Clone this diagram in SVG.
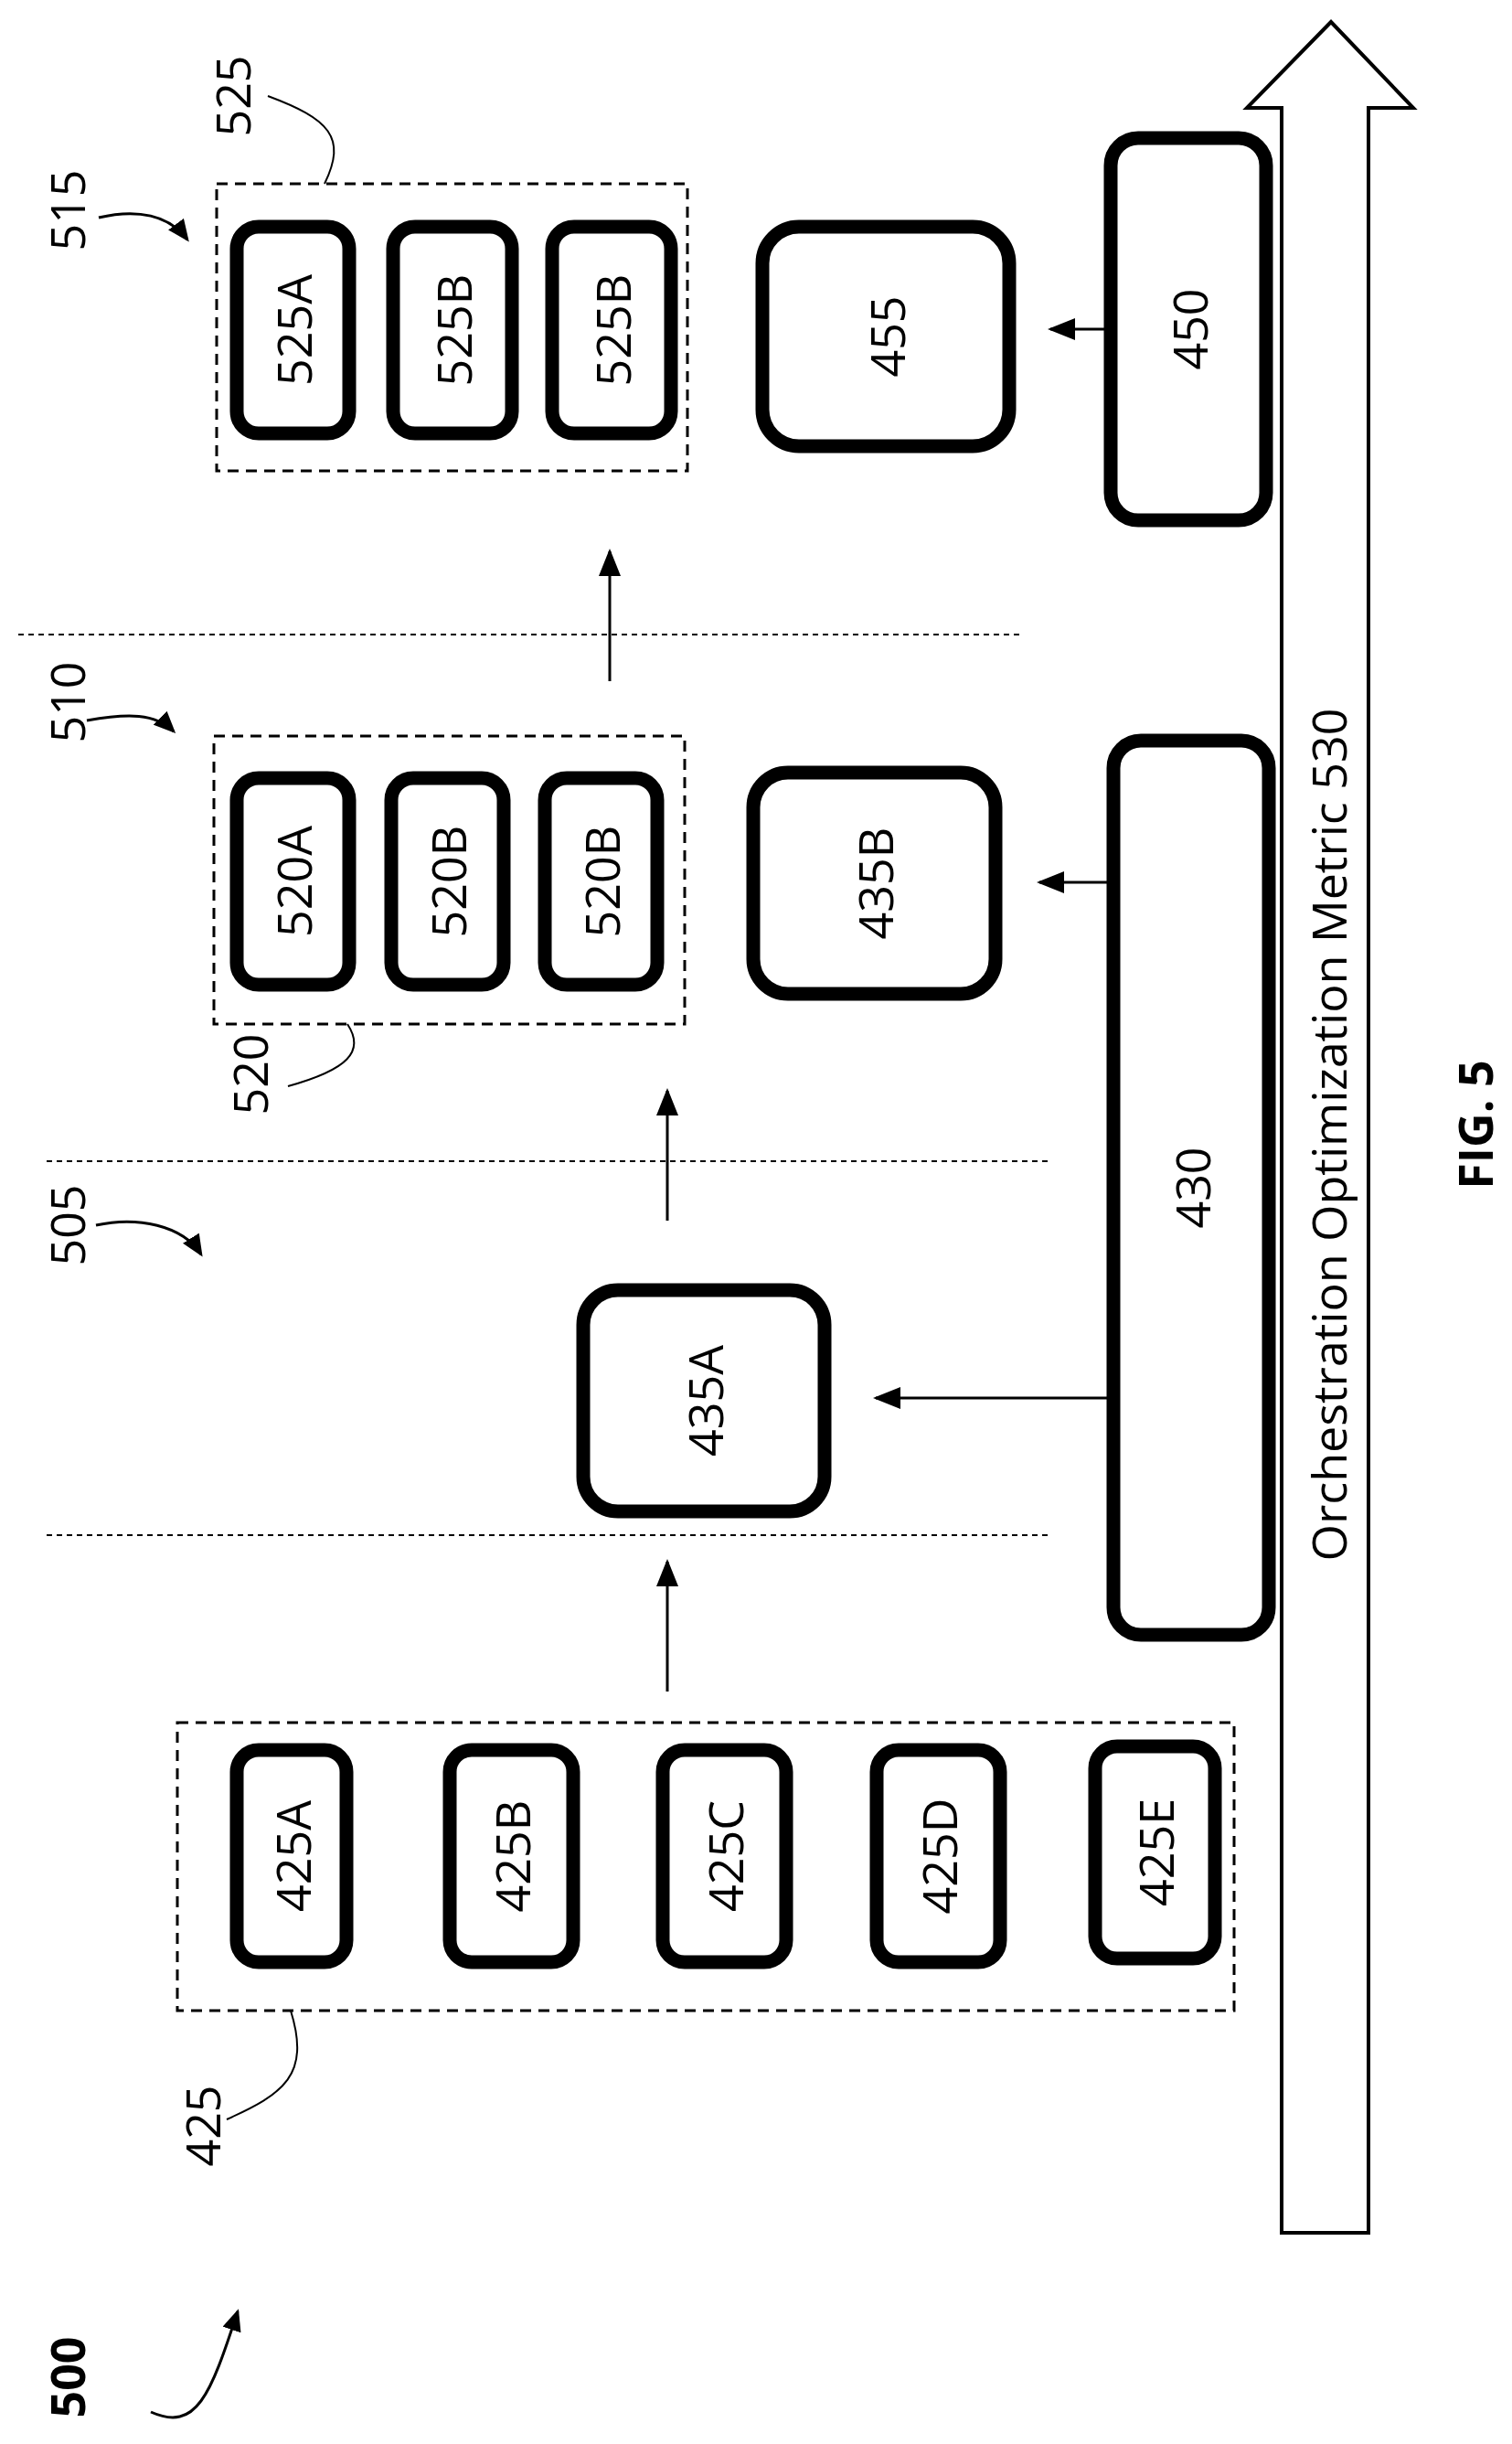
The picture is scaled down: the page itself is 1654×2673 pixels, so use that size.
<svg xmlns="http://www.w3.org/2000/svg" width="1654" height="2673" viewBox="0 0 1654 2673">
<style>
.b{fill:#fff;stroke:#000;stroke-width:15}
.g{fill:none;stroke:#000;stroke-width:3;stroke-dasharray:12 8}
.d{fill:none;stroke:#000;stroke-width:2;stroke-dasharray:6 5}
.c{fill:none;stroke:#000;stroke-width:3}
.l{fill:none;stroke:#000;stroke-width:2}
text{font-family:"Open Sans","DejaVu Sans",sans-serif;font-size:52px;fill:#000;text-anchor:middle;dominant-baseline:central}
</style>
<defs>
<marker id="a" markerWidth="10" markerHeight="8" refX="9" refY="4" orient="auto" markerUnits="strokeWidth"><path d="M0,0 L10,4 L0,8 z"/></marker>
<marker id="s" markerWidth="8" markerHeight="7" refX="7" refY="3.5" orient="auto" markerUnits="strokeWidth"><path d="M0,0 L8,3.5 L0,7 z"/></marker>
</defs>
<rect width="1654" height="2673" fill="#fff"/>
<g id="metric530">
<path d="M1402,2442 L1402,118 L1364,118 L1456,24 L1546,118 L1497,118 L1497,2442 Z" fill="#fff" stroke="#000" stroke-width="4"/>
<text transform="translate(1452,1241) rotate(-90)" font-size="50">Orchestration Optimization Metric 530</text>
</g>
<g id="dividers">
<line class="d" x1="20" y1="694" x2="1120" y2="694"/>
<line class="d" x1="51" y1="1270" x2="1151" y2="1270"/>
<line class="d" x1="51" y1="1679" x2="1151" y2="1679"/>
</g>
<g id="g425">
<rect class="g" x="194" y="1884" width="1156" height="315"/>
<g id="n425A"><rect class="b" x="259" y="1914" width="120" height="232" rx="24"/><text transform="translate(319,2030) rotate(-90)">425A</text></g>
<g id="n425B"><rect class="b" x="492" y="1914" width="135" height="232" rx="24"/><text transform="translate(559,2030) rotate(-90)">425B</text></g>
<g id="n425C"><rect class="b" x="725" y="1914" width="135" height="232" rx="24"/><text transform="translate(792,2030) rotate(-90)">425C</text></g>
<g id="n425D"><rect class="b" x="959" y="1914" width="135" height="232" rx="24"/><text transform="translate(1026,2030) rotate(-90)">425D</text></g>
<g id="n425E"><rect class="b" x="1198" y="1910" width="131" height="232" rx="24"/><text transform="translate(1263,2026) rotate(-90)">425E</text></g>
</g>
<g id="n435A"><rect class="b" x="638" y="1411" width="264" height="242" rx="38"/><text transform="translate(770,1532) rotate(-90)">435A</text></g>
<g id="n430"><rect class="b" x="1218" y="810" width="170" height="978" rx="30"/><text transform="translate(1303,1299) rotate(-90)">430</text></g>
<g id="g520">
<rect class="g" x="234" y="805" width="515" height="315"/>
<g id="n520A"><rect class="b" x="259" y="851" width="123" height="226" rx="24"/><text transform="translate(320,964) rotate(-90)">520A</text></g>
<g id="n520B1"><rect class="b" x="428" y="851" width="123" height="226" rx="24"/><text transform="translate(489,964) rotate(-90)">520B</text></g>
<g id="n520B2"><rect class="b" x="596" y="851" width="123" height="226" rx="24"/><text transform="translate(657,964) rotate(-90)">520B</text></g>
</g>
<g id="n435B"><rect class="b" x="824" y="845" width="265" height="242" rx="38"/><text transform="translate(956,966) rotate(-90)">435B</text></g>
<g id="g525">
<rect class="g" x="237" y="201" width="515" height="314"/>
<g id="n525A"><rect class="b" x="259" y="248" width="123" height="226" rx="24"/><text transform="translate(320,361) rotate(-90)">525A</text></g>
<g id="n525B1"><rect class="b" x="430" y="248" width="130" height="226" rx="24"/><text transform="translate(495,361) rotate(-90)">525B</text></g>
<g id="n525B2"><rect class="b" x="604" y="248" width="130" height="226" rx="24"/><text transform="translate(669,361) rotate(-90)">525B</text></g>
</g>
<g id="n455"><rect class="b" x="834" y="248" width="270" height="240" rx="40"/><text transform="translate(969,368) rotate(-90)">455</text></g>
<g id="n450"><rect class="b" x="1215" y="151" width="170" height="418" rx="30"/><text transform="translate(1300,360) rotate(-90)">450</text></g>
<g id="connectors">
<line class="c" x1="730" y1="1850" x2="730" y2="1708" marker-end="url(#a)"/>
<line class="c" x1="1214" y1="1529" x2="958" y2="1529" marker-end="url(#a)"/>
<line class="c" x1="730" y1="1335" x2="730" y2="1193" marker-end="url(#a)"/>
<line class="c" x1="1214" y1="965" x2="1137" y2="965" marker-end="url(#a)"/>
<line class="c" x1="667" y1="745" x2="667" y2="603" marker-end="url(#a)"/>
<line class="c" x1="1211" y1="360" x2="1149" y2="360" marker-end="url(#a)"/>
</g>
<g id="labels">
<text transform="translate(72,2600) rotate(-90)" font-weight="bold" font-size="48">500</text>
<path class="c" d="M165,2638 C215,2660 230,2620 260,2528" marker-end="url(#s)"/>
<text transform="translate(220,2325) rotate(-90)" font-size="48">425</text>
<path class="l" d="M248,2318 C310,2290 340,2270 318,2199"/>
<text transform="translate(72,1340) rotate(-90)" font-size="48">505</text>
<path class="c" d="M105,1340 C150,1330 200,1340 220,1372" marker-end="url(#s)"/>
<text transform="translate(272,1175) rotate(-90)" font-size="48">520</text>
<path class="l" d="M315,1188 C380,1170 400,1150 380,1120"/>
<text transform="translate(72,768) rotate(-90)" font-size="48">510</text>
<path class="c" d="M95,788 C140,780 170,780 190,800" marker-end="url(#s)"/>
<text transform="translate(72,230) rotate(-90)" font-size="48">515</text>
<path class="c" d="M108,238 C150,228 185,235 205,262" marker-end="url(#s)"/>
<text transform="translate(253,105) rotate(-90)" font-size="48">525</text>
<path class="l" d="M293,105 C360,130 380,150 355,201"/>
<text transform="translate(1612,1230) rotate(-90)" font-weight="bold" font-size="44">FIG. 5</text>
</g>
</svg>
